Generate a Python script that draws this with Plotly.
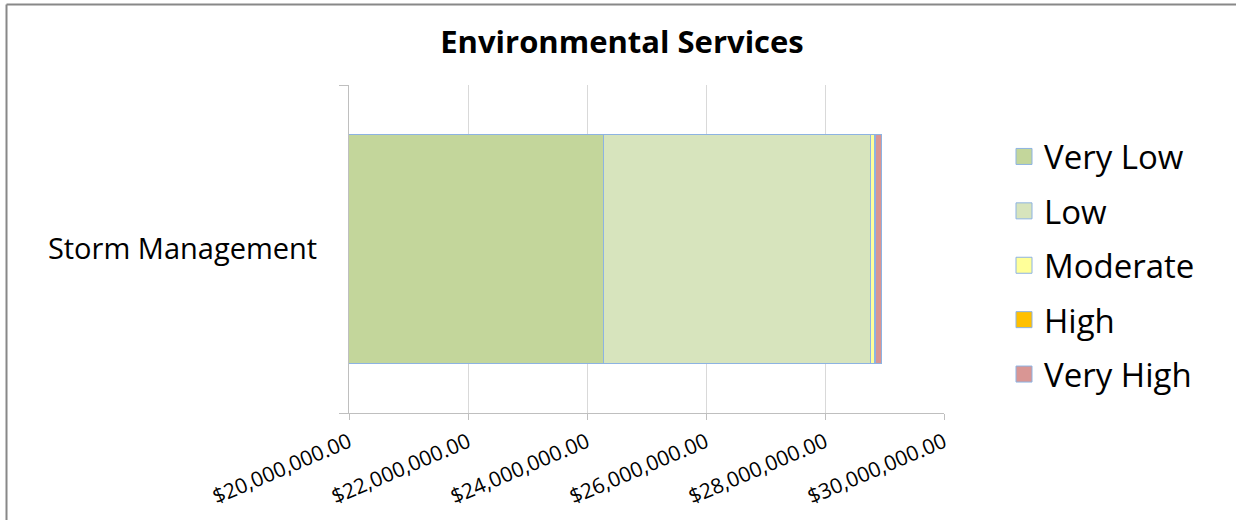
import plotly.graph_objects as go

# Storm management spending by risk level
categories = ["Storm Management"]
risk_levels = ["Very Low", "Low", "Moderate", "High", "Very High"]
very_low = [24_270_000]
low = [4_500_000]
moderate = [60_000]
high = [15_000]
very_high = [100_000]
x_ticks = [20_000_000, 22_000_000, 24_000_000, 26_000_000, 28_000_000, 30_000_000]
x_tick_labels = ["$20,000,000.00", "$22,000,000.00", "$24,000,000.00",
                 "$26,000,000.00", "$28,000,000.00", "$30,000,000.00"]

series = [very_low, low, moderate, high, very_high]
colors = ["#C3D69B", "#D7E4BD", "#FFFF99", "#FFC000", "#D99694"]
outline = "#8DB3E2"
FONT = "Open Sans"

fig = go.Figure()
for name, vals, col in zip(risk_levels, series, colors):
    fig.add_trace(go.Bar(
        y=categories, x=vals, name=name, orientation="h",
        marker=dict(color=col, line=dict(color=outline, width=1)),
        width=0.7, showlegend=False,
    ))
# legend entries with larger square swatches
for i, (name, col) in enumerate(zip(risk_levels, colors)):
    fig.add_trace(go.Scatter(
        x=[None], y=[None], mode="markers", name=name,
        legendgroup=f"g{i}",
        marker=dict(symbol="square", size=16, color=col,
                    line=dict(color=outline, width=1)),
    ))

# plot area: x 349..944, y 85..413 in a 1236x520 page
L, R, T, B = 349, 944, 85, 413
W, H = 1236, 520
pw, ph = R - L, B - T

def px(xp):
    return (xp - L) / pw

def py(yp):
    return (B - yp) / ph

border = "#888888"
fig.add_shape(type="line", xref="paper", yref="paper",
              x0=px(6.5), x1=px(W + 5), y0=py(4.5), y1=py(4.5),
              line=dict(color=border, width=2))
fig.add_shape(type="line", xref="paper", yref="paper",
              x0=px(6.5), x1=px(6.5), y0=py(4.5), y1=py(H + 5),
              line=dict(color=border, width=2))

fig.update_layout(
    width=W, height=H,
    margin=dict(l=L, r=W - R, t=T, b=H - B, pad=0, autoexpand=False),
    barmode="stack",
    plot_bgcolor="white", paper_bgcolor="white",
    font=dict(family=FONT, color="#000000"),
    title=dict(text="<b>Environmental Services</b>",
               x=622 / W, xanchor="center",
               y=1 - 42 / H, yanchor="middle",
               font=dict(size=31, family=FONT, color="#000000")),
    legend=dict(x=px(1004), xanchor="left", y=py(128.5), yanchor="top",
                font=dict(size=33, family=FONT, color="#000000"),
                tracegroupgap=8.5, itemsizing="trace",
                bgcolor="rgba(0,0,0,0)"),
    xaxis=dict(range=[20_000_000, 30_000_000],
               tickvals=x_ticks, ticktext=x_tick_labels,
               tickangle=-23, tickfont=dict(size=21, family=FONT),
               showgrid=True, gridcolor="#D9D9D9", gridwidth=1,
               showline=True, linecolor="#BFBFBF", linewidth=1,
               ticks="outside", ticklen=6, tickcolor="#BFBFBF",
               ticklabelstandoff=2, automargin=False,
               zeroline=False, fixedrange=True),
    yaxis=dict(type="category", range=[-0.5, 0.5],
               tickfont=dict(size=29, family=FONT),
               showline=True, linecolor="#BFBFBF", linewidth=1,
               ticks="outside", ticklen=9, tickcolor="#BFBFBF",
               tickson="boundaries", ticklabelstandoff=25,
               automargin=False,
               showgrid=False, zeroline=False, fixedrange=True),
)

fig.write_html("out.html")
